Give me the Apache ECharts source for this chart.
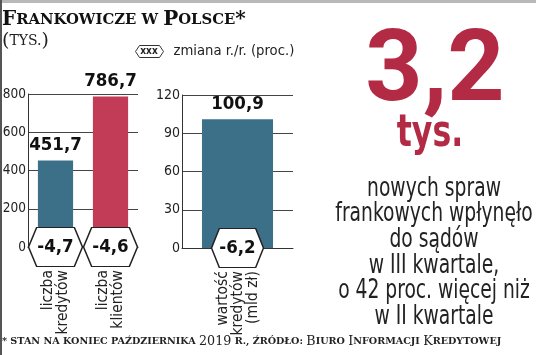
<!DOCTYPE html>
<html>
<head>
<meta charset="utf-8">
<script src="https://cdn.jsdelivr.net/npm/echarts@6/dist/echarts.min.js"></script>
<style>
html,body{margin:0;padding:0;background:#fff;}
#c{width:536px;height:355px;}
</style>
</head>
<body>
<div id="c"></div>
<script>
// ---- data ----
const categoriesLeft = ['liczba\nkredytów', 'liczba\nklientów'];
const valuesLeft = [451.7, 786.7];
const changesLeft = [-4.7, -4.6];
const categoriesRight = ['wartość\nkredytów\n(mld zł)'];
const valuesRight = [100.9];
const changesRight = [-6.2];
const ticksLeft = { min: 0, max: 800, interval: 200 };
const ticksRight = { min: 0, max: 120, interval: 30 };
const headline = '3,2';
const headlineUnit = 'tys.';
const bodyLines = ['nowych spraw', 'frankowych wpłynęło', 'do sądów', 'w III kwartale,', 'o 42 proc. więcej niż', 'w II kwartale'];
const legendName = 'zmiana r./r. (proc.)';

// ---- style ----
const NARROW = '"DejaVu Sans Condensed", "Liberation Sans Narrow", "Roboto", sans-serif';
const SERIF = '"DejaVu Serif", "Liberation Serif", serif';
const BLUE = '#3c7089';
const RED = '#c23b57';
const HEADRED = '#b32a44';
const colorsLeft = [BLUE, RED];
const colorsRight = [BLUE];
const HEX = 'path://M0,50 L15,0 L85,0 L100,50 L85,100 L15,100 Z';
const HEX_LEGEND = 'path://M0,6 L4,0 L24,0 L28,6 L24,12 L4,12 Z';
const fmt = v => String(v).replace('.', ',');

function yAxis(gi, t, size) {
  return {
    type: 'value', gridIndex: gi, min: t.min, max: t.max, interval: t.interval,
    axisLine: { show: true, lineStyle: { color: '#333', width: 1 } },
    axisTick: { show: false },
    axisLabel: { color: '#222', fontFamily: NARROW, fontSize: size, margin: 2 },
    splitLine: { show: true, lineStyle: { color: '#444', width: 1 } }
  };
}
function xAxis(gi, cats) {
  return {
    type: 'category', gridIndex: gi, data: cats,
    axisLine: { show: true, lineStyle: { color: '#333', width: 1 } },
    axisTick: { show: false },
    axisLabel: { rotate: 90, color: '#222', fontFamily: NARROW, fontSize: 15.5, lineHeight: 15, margin: 23, interval: 0 }
  };
}
function bars(gi, vals, colors) {
  return {
    type: 'bar', xAxisIndex: gi, yAxisIndex: gi, barWidth: '64%', z: 2,
    data: vals.map((v, i) => ({ value: v, itemStyle: { color: colors[i] } })),
    label: { show: true, position: 'top', distance: 6, formatter: p => fmt(p.value),
      fontFamily: NARROW, fontWeight: 'bold', fontSize: 18.5, color: '#111' }
  };
}
function hexes(gi, cats, changes, w) {
  return {
    type: 'scatter', name: legendName, xAxisIndex: gi, yAxisIndex: gi, z: 5, clip: false,
    symbol: HEX, symbolSize: [w, 39], symbolKeepAspect: false,
    itemStyle: { color: '#fff', borderColor: '#222', borderWidth: 1.3, opacity: 1 },
    emphasis: { disabled: true },
    data: changes.map((v, i) => ({ value: [cats[i], 0], change: v })),
    label: { show: true, position: 'inside', formatter: p => fmt(p.data.change),
      fontFamily: NARROW, fontWeight: 'bold', fontSize: 18.5, color: '#111' }
  };
}

const chart = echarts.init(document.getElementById('c'), null, { renderer: 'canvas' });
chart.setOption({
  animation: false,
  backgroundColor: '#fff',
  title: [
    {
      left: 2, top: 10, padding: 0,
      text: '{b|F}{s|RANKOWICZE W }{b|P}{s|OLSCE}{b|*}',
      textStyle: { rich: {
        b: { fontFamily: SERIF, fontWeight: 'bold', fontSize: 20, color: '#111' },
        s: { fontFamily: SERIF, fontWeight: 'bold', fontSize: 14.8, color: '#111' }
      } }
    },
    {
      left: 2, top: 32, padding: 0,
      text: '{b|(}{s|TYS.}{b|)}',
      textStyle: { rich: {
        b: { fontFamily: SERIF, fontWeight: 'normal', fontSize: 19, color: '#222' },
        s: { fontFamily: SERIF, fontWeight: 'normal', fontSize: 14, color: '#222' }
      } }
    },
    {
      left: 2, top: 335, padding: 0,
      text: '{s|* STAN NA KONIEC PAŹDZIERNIKA }{n|2019}{s| R., ŹRÓDŁO: }{b|B}{s|IURO }{b|I}{s|NFORMACJI }{b|K}{s|REDYTOWEJ}',
      textStyle: { rich: {
        s: { fontFamily: SERIF, fontWeight: 'bold', fontSize: 9.6, color: '#222' },
        n: { fontFamily: SERIF, fontWeight: 'normal', fontSize: 12.7, color: '#222' },
        b: { fontFamily: SERIF, fontWeight: 'normal', fontSize: 12.7, color: '#222' }
      } }
    }
  ],
  legend: {
    left: 135, top: 44, padding: 0, itemWidth: 28, itemHeight: 12,
    icon: HEX_LEGEND,
    data: [legendName],
    itemStyle: { color: '#fff', borderColor: '#333', borderWidth: 1 },
    textStyle: { fontFamily: NARROW, fontSize: 14.7, color: '#222', padding: [0, 0, 0, 5] },
    selectedMode: false
  },
  grid: [
    { left: 28, width: 110, top: 94, height: 153, containLabel: false, outerBoundsMode: 'none' },
    { left: 182, width: 111, top: 95, height: 153, containLabel: false, outerBoundsMode: 'none' }
  ],
  xAxis: [xAxis(0, categoriesLeft), xAxis(1, categoriesRight)],
  yAxis: [yAxis(0, ticksLeft, 13.5), yAxis(1, ticksRight, 14)],
  series: [
    bars(0, valuesLeft, colorsLeft),
    bars(1, valuesRight, colorsRight),
    hexes(0, categoriesLeft, changesLeft, 54),
    hexes(1, categoriesRight, changesRight, 52)
  ],
  graphic: [
    { type: 'rect', shape: { x: 0, y: 0, width: 536, height: 3 }, style: { fill: '#b8b8b8' }, silent: true },
    { type: 'rect', shape: { x: 0, y: 0, width: 2, height: 355 }, style: { fill: '#555' }, silent: true },
    { type: 'text', x: 149, y: 51, silent: true, z: 100,
      style: { text: 'xxx', fill: '#222', fontFamily: NARROW, fontSize: 10, fontWeight: 'bold',
        align: 'center', verticalAlign: 'middle', textAlign: 'center', textVerticalAlign: 'middle' } },
    { type: 'text', x: 435, y: 75, silent: true,
      style: { text: headline, fill: HEADRED, fontFamily: 'Roboto, sans-serif', fontWeight: 'bold', fontSize: 100,
        align: 'center', verticalAlign: 'middle', textAlign: 'center', textVerticalAlign: 'middle' } },
    { type: 'text', x: 430, y: 134, scaleX: 0.78, silent: true,
      style: { text: headlineUnit, fill: HEADRED, fontFamily: NARROW, fontWeight: 'bold', fontSize: 45,
        align: 'center', verticalAlign: 'middle', textAlign: 'center', textVerticalAlign: 'middle' } }
  ].concat(bodyLines.map((t, i) => ({
    type: 'text', x: 434, y: 189 + i * 25.6, scaleX: 0.8, silent: true,
    style: { text: t, fill: '#222', fontFamily: NARROW, fontSize: 26,
      align: 'center', verticalAlign: 'middle', textAlign: 'center', textVerticalAlign: 'middle' }
  })))
});
</script>
</body>
</html>
